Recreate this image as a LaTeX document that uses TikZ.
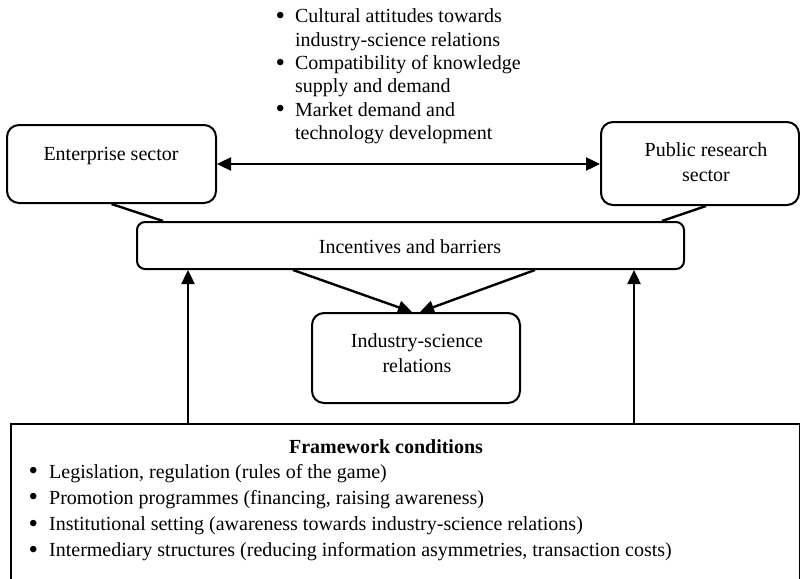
\documentclass[tikz,border=0pt]{standalone}
\usepackage{fontspec}
\setmainfont{Liberation Serif}
\usetikzlibrary{arrows.meta}
\newcommand{\bigbul}{\raisebox{-1.6pt}{\fontsize{27}{27}\selectfont\textbullet}}
\begin{document}
\begin{tikzpicture}[x=1pt,y=-1pt,
  txt/.style={font=\fontsize{20}{24}\selectfont, inner sep=0pt},
  boxr/.style={draw, line width=2pt, rounded corners=12pt, inner sep=0pt},
  conn/.style={line width=2.4pt},
  arr/.style={line width=2.4pt, -{Triangle[length=14pt,width=13pt]}},
  darr/.style={line width=2.4pt, {Triangle[length=14pt,width=13pt]}-{Triangle[length=14pt,width=13pt]}}]
\useasboundingbox (0,0) rectangle (800,578);
\clip (0,0) rectangle (800,578);

% boxes
\node[boxr, minimum width=209pt, minimum height=78pt] (ent) at (111.5,164) {};
\node[boxr, minimum width=198pt, minimum height=83pt] (pub) at (700,163.5) {};
\node[boxr, rounded corners=8pt, minimum width=547pt, minimum height=47pt] (inc) at (410.5,245.5) {};
\node[boxr, minimum width=208pt, minimum height=90pt] (isr) at (416,358) {};
\node[draw, line width=2pt, minimum width=789pt, minimum height=180pt, anchor=north west, inner sep=0pt] (fw) at (10,423) {};

% texts
\node[txt, anchor=base] (entT) at (111,160) {Enterprise sector};
\node[txt, anchor=base] (pubT) at (706,156) {\fontsize{20}{25}\selectfont\begin{tabular}[t]{@{}c@{}}Public research\\sector\end{tabular}};
\node[txt, anchor=base] (incT) at (410,253) {Incentives and barriers};
\node[txt, anchor=base] (isrT) at (417,347) {\fontsize{20}{25}\selectfont\begin{tabular}[t]{@{}c@{}}Industry-science\\relations\end{tabular}};
\node[txt, anchor=base west] (topL) at (275.3,23) {\fontsize{20}{23.3}\selectfont\begin{tabular}[t]{@{}l@{\hspace{10.2pt}}l@{}}
\bigbul & Cultural attitudes towards\\
 & industry-science relations\\
\bigbul & Compatibility of knowledge\\
 & supply and demand\\
\bigbul & Market demand and\\
 & technology development
\end{tabular}};
\node[txt, anchor=base, font=\fontsize{20}{24}\selectfont\bfseries] (fwT) at (386,453) {Framework conditions};
\node[txt, anchor=base west] (fwL) at (28.3,478) {\fontsize{20}{26.3}\selectfont\begin{tabular}[t]{@{}l@{\hspace{11.2pt}}l@{}}
\bigbul & Legislation, regulation (rules of the game)\\
\bigbul & Promotion programmes (financing, raising awareness)\\
\bigbul & Institutional setting (awareness towards industry-science relations)\\
\bigbul & Intermediary structures (reducing information asymmetries, transaction costs)
\end{tabular}};

% connectors
\draw[darr] (ent.east) -- (ent.east -| pub.west);
\draw[conn] (ent.south) -- (inc.north -| 163,0);
\draw[conn] ([xshift=6pt]pub.south) -- (inc.north -| 662,0);
\draw[arr] (inc.south -| 293,0) -- ([xshift=-4pt]isr.north);
\draw[arr] (inc.south -| 535,0) -- ([xshift=4pt]isr.north);
\draw[arr] (fw.north -| 188,0) -- (inc.south -| 188,0);
\draw[arr] (fw.north -| 634,0) -- (inc.south -| 634,0);
\end{tikzpicture}
\end{document}
